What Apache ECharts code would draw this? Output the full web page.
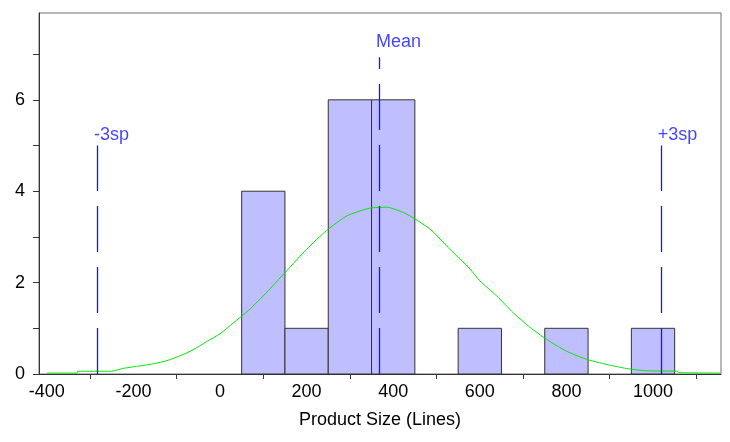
<!DOCTYPE html>
<html>
<head>
<meta charset="utf-8">
<script src="https://cdn.jsdelivr.net/npm/echarts@6/dist/echarts.min.js"></script>
<style>
  html, body { margin: 0; padding: 0; background: #fff; }
  #chart { width: 730px; height: 442px; }
</style>
</head>
<body>
<div id="chart"></div>
<script>
// histogram bins (lines of code)
const binStart = [50, 150, 250, 350, 550, 750, 950];
const binEnd   = [150, 250, 350, 450, 650, 850, 1050];
const binCount = [4, 1, 6, 6, 1, 1, 1];

// fitted curve
const curveX = [-400, -330, -329, -250, -225, -190, -150, -120, -92, -62, -31, 0, 31, 62, 100, 154, 200, 246, 293, 346, 385, 431, 485, 531, 577, 600, 639, 677, 716, 754, 800, 847, 893, 939, 985, 1055, 1060, 1155];
const curveY = [0.02, 0.02, 0.06, 0.06, 0.12, 0.17, 0.23, 0.30, 0.40, 0.53, 0.71, 0.88, 1.12, 1.36, 1.71, 2.26, 2.73, 3.14, 3.46, 3.63, 3.65, 3.50, 3.17, 2.73, 2.30, 2.04, 1.71, 1.34, 1.02, 0.76, 0.50, 0.32, 0.21, 0.12, 0.07, 0.06, 0.03, 0.02];

// reference lines
const refNames = ['-3sp', 'Mean', '+3sp'];
const refX     = [-284, 367, 1018];
const refTop   = [5.0, 6.93, 5.0];
const refLabelY = [5.22, 7.26, 5.22];

const xLabels = [-400, -200, 0, 200, 400, 600, 800, 1000];
const xTicks  = [-300, -100, 100, 300, 500, 700, 900, 1100];
const yLabels = [0, 2, 4, 6];
const yTicks  = [0, 1, 2, 3, 4, 5, 6, 7];

const FONT = 'Liberation Sans, Arial, sans-serif';
const BLUE = '#1414ff';
const chart = echarts.init(document.getElementById('chart'), null, { renderer: 'canvas' });

chart.setOption({
  animation: false,
  grid: {
    left: 39, right: 9, top: 13, bottom: 68,
    show: true, borderColor: '#6e6e6e', borderWidth: 1,
  },
  xAxis: {
    type: 'value', min: -418, max: 1157,
    name: 'Product Size (Lines)', nameLocation: 'middle', nameGap: 37,
    nameTextStyle: { fontFamily: FONT, fontSize: 18, color: '#000' },
    axisLine: { show: true, onZero: false, lineStyle: { color: '#333', width: 1 } },
    axisTick: { show: true, length: 5, customValues: xTicks, lineStyle: { color: '#333' } },
    axisLabel: {
      customValues: xLabels, fontFamily: FONT, fontSize: 18, color: '#000', margin: 9,
      formatter: v => String(v),
    },
    splitLine: { show: false },
  },
  yAxis: {
    type: 'value', min: 0, max: 7.9,
    axisLine: { show: true, onZero: false, lineStyle: { color: '#333', width: 1 } },
    axisTick: { show: true, length: 6, customValues: yTicks, lineStyle: { color: '#333' } },
    axisLabel: { customValues: yLabels, fontFamily: FONT, fontSize: 18, color: '#000', margin: 14 },
    splitLine: { show: false },
  },
  series: [
    {
      type: 'custom',
      data: binCount.map((c, i) => [binStart[i], binEnd[i], c]),
      renderItem(params, api) {
        const p0 = api.coord([api.value(0), 0]);
        const p1 = api.coord([api.value(1), api.value(2)]);
        return {
          type: 'rect',
          shape: { x: p0[0], y: p1[1], width: p1[0] - p0[0], height: p0[1] - p1[1] },
          style: { fill: '#bfbfff', stroke: '#333', lineWidth: 1 },
        };
      },
      z: 2,
    },
    {
      type: 'line',
      data: curveX.map((x, i) => [x, curveY[i]]),
      showSymbol: false,
      smooth: 0.2,
      lineStyle: { color: '#00e600', width: 1 },
      z: 3,
    },
    {
      // dashed reference lines, dash pattern starting at the x axis
      type: 'custom',
      data: refX.map((x, i) => [x, refTop[i]]),
      renderItem(params, api) {
        const b = api.coord([api.value(0), 0]);
        const t = api.coord([api.value(0), api.value(1)]);
        const x = Math.round(b[0]) + 0.5;
        return {
          type: 'line',
          shape: { x1: x, y1: b[1], x2: x, y2: t[1] },
          style: { stroke: BLUE, lineWidth: 1.3, lineDash: [46, 15] },
        };
      },
      z: 4,
    },
    {
      type: 'scatter',
      symbolSize: 0,
      data: refX.map((x, i) => ({ value: [x, refLabelY[i]], name: refNames[i] })),
      label: {
        show: true, position: 'inside', align: 'left', verticalAlign: 'middle',
        offset: [-3, 0],
        formatter: p => p.name,
        fontFamily: FONT, fontSize: 18, color: BLUE,
      },
      z: 5,
    },
  ],
});
</script>
</body>
</html>
